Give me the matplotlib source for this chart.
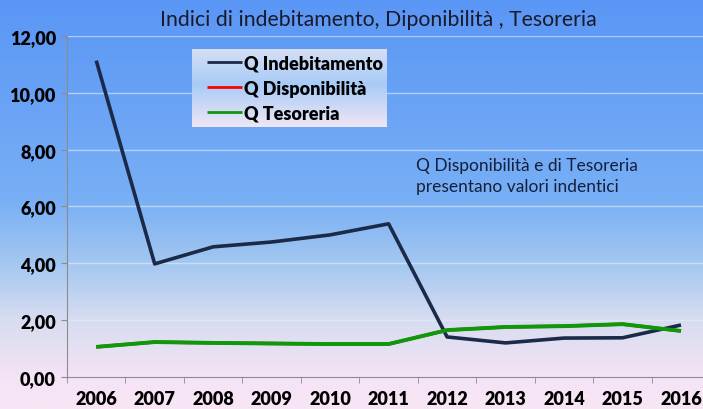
import numpy as np
import matplotlib
matplotlib.use('Agg')
from matplotlib import pyplot as plt
from matplotlib.colors import LinearSegmentedColormap

plt.rcParams['font.family'] = ['Lato', 'DejaVu Sans']

anni = ['2006', '2007', '2008', '2009', '2010', '2011', '2012', '2013', '2014', '2015', '2016']
q_indebitamento = [11.13, 3.98, 4.58, 4.75, 5.00, 5.39, 1.41, 1.20, 1.37, 1.38, 1.83]
q_disponibilita = [1.06, 1.23, 1.20, 1.18, 1.16, 1.16, 1.65, 1.76, 1.79, 1.86, 1.62]
q_tesoreria = [1.06, 1.23, 1.20, 1.18, 1.16, 1.16, 1.65, 1.76, 1.79, 1.86, 1.62]

fig = plt.figure(figsize=(7.03, 4.10), dpi=100)
grad = np.linspace(0, 1, 256).reshape(-1, 1)

# sfondo sfumato blu -> rosa
bg = fig.add_axes([0, 0, 1, 1])
bg_cmap = LinearSegmentedColormap.from_list('sfondo', [(0.0, '#f8e6f6'), (0.07, '#f5e4f5'), (0.22, '#d7dcf0'),
	(0.35, '#a5c8f0'), (0.51, '#78aff5'), (1.0, '#5a96f5')])
bg.imshow(grad, aspect='auto', cmap=bg_cmap, origin='lower', extent=[0, 1, 0, 1])
bg.axis('off')

ax = fig.add_axes([0.0953, 0.078, 0.915, 0.832])
ax.patch.set_alpha(0)
x = np.arange(len(anni))

ax.plot(x, q_indebitamento, color='#1b2a48', linewidth=2.6, label='Q Indebitamento', solid_capstyle='butt')
ax.plot(x, q_disponibilita, color='#ff0000', linewidth=2.4, label='Q Disponibilità', solid_capstyle='butt')
ax.plot(x, q_tesoreria, color='#0a9a0a', linewidth=2.8, label='Q Tesoreria', solid_capstyle='butt')

ax.set_xlim(-0.5, len(anni) - 0.5)
ax.set_ylim(0, 12)
ax.set_yticks(np.arange(0, 13, 2))
ax.set_yticklabels(['%d,00' % v for v in range(0, 13, 2)], fontsize=13, fontweight='heavy')
ax.set_xticks(x)
ax.set_xticklabels(anni, fontsize=13, fontweight='heavy')
ax.set_xticks(np.arange(-0.5, len(anni), 1), minor=True)
ax.tick_params(axis='x', which='major', length=0, pad=9)
ax.tick_params(axis='x', which='minor', length=4, color='#8c8c8c', direction='out')
ax.tick_params(axis='y', length=4, color='#8c8c8c', pad=4)

ax.grid(axis='y', color='#e6eefa', linewidth=1, alpha=0.6)
ax.set_axisbelow(True)
for s in ['top', 'right']:
	ax.spines[s].set_visible(False)
ax.spines['left'].set_color('#8c8c8c')
ax.spines['bottom'].set_color('#8c8c8c')

fig.text(0.5386, 0.952, 'Indici di indebitamento, Diponibilità , Tesoreria', ha='center', va='center', fontsize=15.3, color='#1a1a2a')

ax.text(0.542, 0.645, 'Q Disponibilità e di Tesoreria\npresentano valori indentici', transform=ax.transAxes,
	fontsize=12.5, color='#14203a', va='top', ha='left', linespacing=1.4)

# riquadro legenda con sfumatura propria
lg = fig.add_axes([192 / 703, 1 - 128 / 410, 195 / 703, 78 / 410])
lg_cmap = LinearSegmentedColormap.from_list('legenda', [(0.0, '#efe6f5'), (0.55, '#a8cbf7'), (1.0, '#d6dff5')])
lg.imshow(grad, aspect='auto', cmap=lg_cmap, origin='lower', extent=[0, 1, 0, 1])
lg.axis('off')
handles, labels = ax.get_legend_handles_labels()
leg = lg.legend(handles, labels, loc='center left', bbox_to_anchor=(0.075, 0.5), frameon=False, handlelength=1.95,
	handletextpad=0.1, labelspacing=0.46, borderpad=0, borderaxespad=0, prop={'weight': 'heavy', 'size': 13})
for h in leg.get_lines():
	h.set_linewidth(2.0)

fig.savefig('out.png', dpi=100)
